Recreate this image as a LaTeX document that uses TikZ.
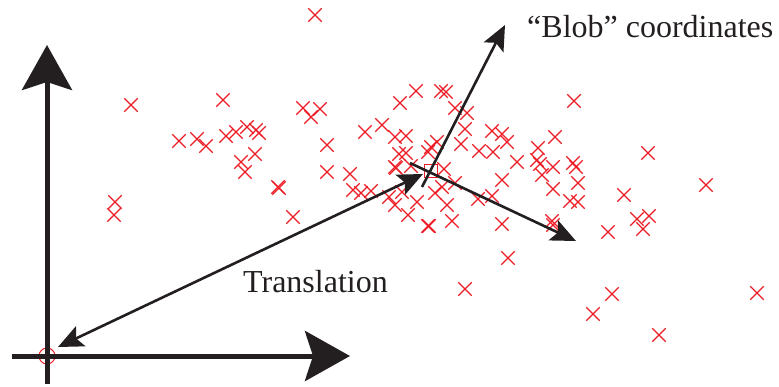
\documentclass[tikz,border=0pt]{standalone}
\usepackage{fontspec}
\setmainfont{Liberation Serif}
\usetikzlibrary{arrows.meta,shapes.misc}
\definecolor{ink}{RGB}{35,31,32}
\definecolor{xred}{RGB}{237,28,36}
\tikzset{
  pt/.style={cross out,draw=xred,line width=1.3pt,minimum size=12pt,inner sep=0pt},
  axisline/.style={draw=ink,line width=5pt,-{Stealth[length=45pt,width=50pt,inset=8pt]}},
  vecline/.style={draw=ink,line width=2.6pt,-{Stealth[length=25pt,width=22pt,inset=5pt]}},
  lbl/.style={inner sep=0pt,anchor=base west,text=ink,font=\fontsize{32}{38}\selectfont}
}
\begin{document}
\begin{tikzpicture}[x=1pt,y=-1pt]
\useasboundingbox (0,0) rectangle (779,386);
% crosses
\foreach \p [count=\i] in {
(315,15),(131,105),(223,100),(303,108),(320,109),(311,117),
(179,141),(197,139),(206,146),(226,136),(236,132),(247,127),(256,130),(259,133),
(327,145),(255,154),(241,162),(245,172),(278,187),(279,188),(327,172),(350,174),
(365,132),(382,125),(353,190),(361,193),(371,191),(115,202),(114,215),(293,217),
(416,91),(441,91),(446,92),(400,103),(455,108),(467,113),(574,101),(465,129),
(395,137),(406,136),(461,144),(437,142),(431,147),(428,152),(399,154),(406,153),
(395,167),(396,168),(411,166),(444,169),(492,131),(502,134),(507,142),(555,137),
(479,151),(493,152),(538,148),(537,160),(540,164),(517,162),(553,167),(573,163),
(576,167),(648,153),(389,197),(402,192),(395,205),(417,202),(408,215),(428,226),
(429,226),(435,193),(442,187),(447,205),(452,221),(455,183),(478,199),(492,196),
(502,180),(502,224),(542,175),(553,189),(578,183),(570,201),(578,202),(552,221),
(553,225),(706,185),(624,195),(637,219),(649,216),(643,229),(608,232),(508,258),
(465,289),(612,294),(593,314),(659,335),(757,293)}
  \node[pt] (x\i) at \p {};
% origin marker and blob mean marker
\node[circle,draw=xred,line width=1pt,minimum size=16pt,inner sep=0pt] (origin) at (47,356) {};
\node[rectangle,draw=xred,line width=1pt,minimum size=13pt,inner sep=0pt] (mean) at (431,171) {};
% axes
\coordinate (vbot) at (47,384);
\coordinate (vtop) at (47,45);
\coordinate (hleft) at (12,356);
\coordinate (hright) at (350,356);
\draw[axisline] (vbot) -- (vtop);
\draw[axisline] (hleft) -- (hright);
% translation vector
\coordinate (tO) at (58,347);
\coordinate (tB) at (423,174);
\draw[vecline,{Stealth[length=25pt,width=22pt,inset=5pt]}-{Stealth[length=25pt,width=22pt,inset=5pt]}] (tO) -- (tB);
% blob coordinates
\coordinate (bu0) at (422,187);
\coordinate (bu1) at (505,25);
\coordinate (br0) at (410,163);
\coordinate (br1) at (576,241);
\draw[vecline] (bu0) -- (bu1);
\draw[vecline] (br0) -- (br1);
% labels
\node[lbl] (tlabel) at (243,292) {Translation};
\node[lbl] (blabel) at (527,37) {“Blob” coordinates};
\end{tikzpicture}
\end{document}
